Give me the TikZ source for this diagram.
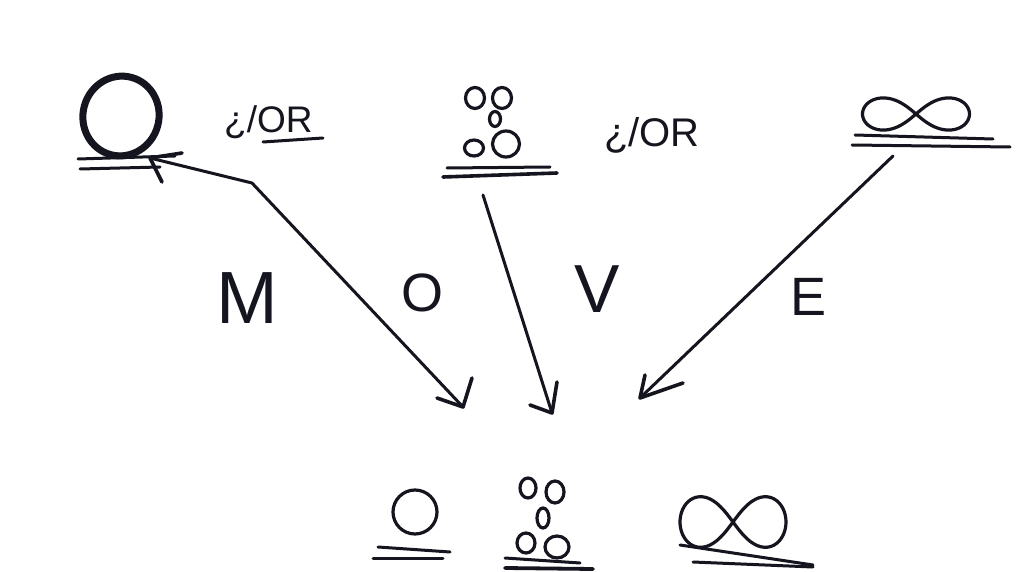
\documentclass[tikz,border=0pt]{standalone}
\usepackage{fontspec}
\setmainfont{Liberation Sans}
\usetikzlibrary{calc,shapes.geometric}
\definecolor{ink}{HTML}{15151F}
\tikzset{
  ink/.style={draw=ink, line cap=round, line join=round},
  stroke/.style={ink, line width=3.2pt},
  uline/.style={ink, line width=3pt},
  conn/.style={ink, line width=3pt},
  barb/.style={ink, line width=3.6pt},
  lbl/.style={text=ink, inner sep=0pt},
  note/.style={text=ink, font=\fontsize{37}{37}\selectfont, inner sep=0pt, anchor=base west},
  dot/.style={ellipse, ink, line width=3.2pt, inner sep=0pt}
}
\begin{document}
\begin{tikzpicture}[x=1pt,y=-1pt]
\useasboundingbox[fill=white] (0,0) rectangle (1018,572);

% ---------- top left: bold circle ----------
\node[ellipse, ink, line width=7pt, minimum width=76pt, minimum height=80pt, rotate=-15] (c1) at (121,116) {};
\draw[uline] (78,159) -- (175,156);
\draw[uline] (80,169) -- (160,167);
\node[note] (q1) at (224,133) {¿/OR};
\draw[uline] (263,142) -- (323,138);

% ---------- top middle: stack of circles ----------
\node[dot, minimum width=19pt, minimum height=21pt] (s1) at (475,98) {};
\node[dot, minimum width=19pt, minimum height=21pt] (s2) at (502,98) {};
\node[dot, minimum width=11pt, minimum height=15pt] (s3) at (495,119) {};
\node[dot, minimum width=19pt, minimum height=16pt] (s4) at (474,148) {};
\node[dot, minimum width=27pt, minimum height=26pt] (s5) at (506,144) {};
\draw[uline] (447,168) -- (550,167);
\draw[uline, line width=3.6pt] (443,177) -- (557,173);
\node[note, font=\fontsize{40}{40}\selectfont] (q2) at (604,147) {¿/OR};

% ---------- top right: infinity ----------
\node[inner sep=0pt] (inf1) at (916,114) {};
\draw[stroke] plot[domain=0:360, samples=120, smooth cycle, variable=\t]
  ({916 + 53.5*cos(\t)/(1+pow(sin(\t),2))}, {114 + 0.85*53.5*sin(\t)*cos(\t)/(1+pow(sin(\t),2))});
\draw[uline] (855,135) -- (993,139);
\draw[uline] (852,145) -- (1010,147);

% ---------- labels ----------
\node[lbl, font=\fontsize{74}{74}\selectfont] (m) at (247,298) {M};
\node[lbl, font=\fontsize{54}{54}\selectfont] (o) at (422,293) {O};
\node[lbl, font=\fontsize{68}{68}\selectfont] (v) at (597,289) {V};
\node[lbl, font=\fontsize{54}{54}\selectfont] (e) at (809,297) {E};

% ---------- connectors ----------
\coordinate (t1) at (150,158);
\coordinate (b1) at (252,183);
\coordinate (h1) at (463,407);
\coordinate (t2) at (483,195);
\coordinate (h2) at (552,413);
\coordinate (t3) at (893,156);
\coordinate (h3) at (640,398);
\draw[conn] (t1) -- (b1) -- (h1);
\draw[conn] (t2) -- (h2);
\draw[conn] (t3) -- (h3);
% open V arrowheads
\draw[barb] ($(t1)+(12,24)$) -- (t1) -- ($(t1)+(32,-5)$);
\draw[barb] ($(h1)+(9,-29)$) -- (h1) -- ($(h1)+(-26,-9)$);
\draw[barb] ($(h2)+(5,-31)$) -- (h2) -- ($(h2)+(-22,-8)$);
\draw[barb] ($(h3)+(5,-23)$) -- (h3) -- ($(h3)+(43,-15)$);

% ---------- bottom: circle ----------
\node[dot, minimum width=44pt, minimum height=44pt] (d1) at (415,512) {};
\draw[uline] (378,547) -- (450,552);
\draw[uline] (373,558) -- (443,558);

% ---------- bottom: stack of circles ----------
\node[dot, minimum width=16pt, minimum height=20pt] (u1) at (528,488) {};
\node[dot, minimum width=18pt, minimum height=22pt] (u2) at (555,492) {};
\node[dot, minimum width=12pt, minimum height=20pt] (u3) at (543,518) {};
\node[dot, minimum width=18pt, minimum height=20pt] (u4) at (526,543) {};
\node[dot, minimum width=24pt, minimum height=22pt] (u5) at (557,547) {};
\draw[uline] (505,558) -- (580,563);
\draw[uline, line width=3.8pt] (505,568) -- (593,569);

% ---------- bottom: infinity ----------
\node[inner sep=0pt] (inf2) at (733,522) {};
\draw[stroke] plot[domain=0:360, samples=120, smooth cycle, variable=\t]
  ({733 + 53*cos(\t)/(1+pow(sin(\t),2))}, {522 + 1.35*53*sin(\t)*cos(\t)/(1+pow(sin(\t),2))});
\draw[uline] (680,545) -- (813,565);
\draw[uline] (693,562) -- (813,567);
\end{tikzpicture}
\end{document}
